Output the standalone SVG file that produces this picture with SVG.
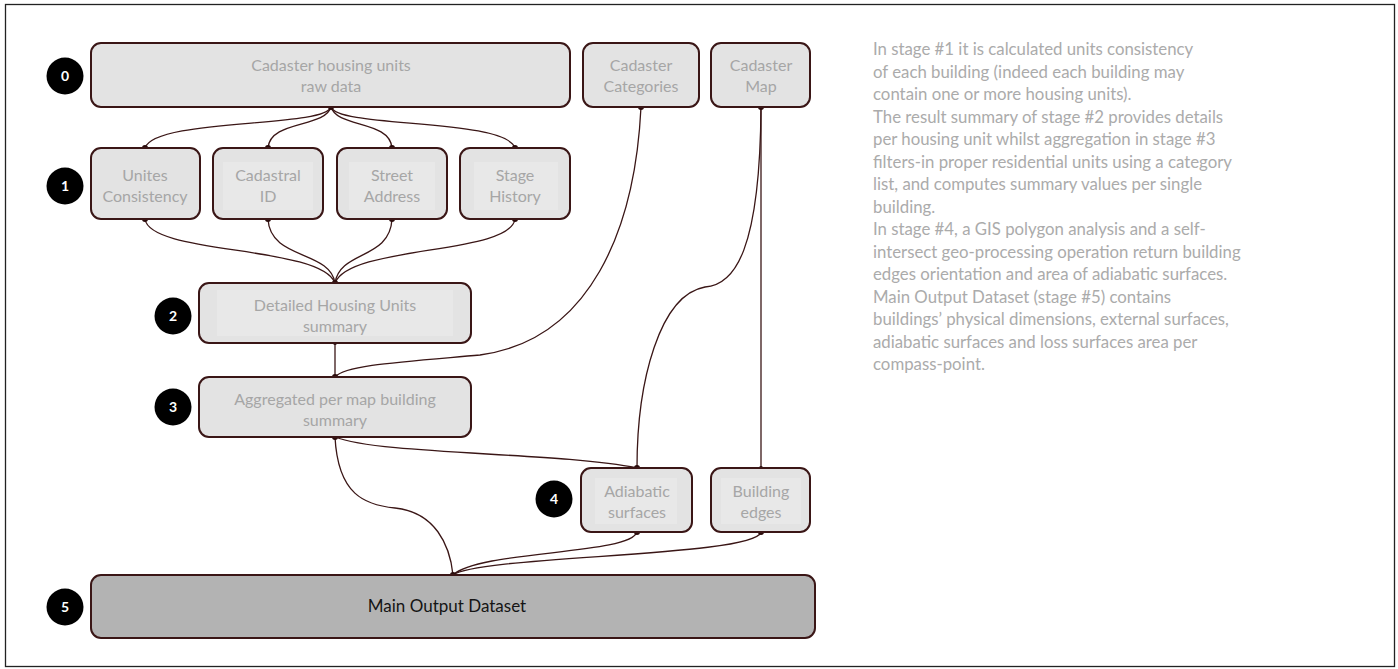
<svg xmlns="http://www.w3.org/2000/svg" width="1398" height="669" viewBox="0 0 1398 669">
<style>
.frame{fill:#fff;stroke:#222;stroke-width:1.3}
.node{fill:#e3e3e3;stroke:#3a1616;stroke-width:2}
.inner{fill:#e8e8e8}
.main{fill:#b3b3b3;stroke:#3a1616;stroke-width:2}
.lbl{font-family:"Lato","Liberation Sans",sans-serif;font-size:16px;fill:#a6a6a6;text-anchor:middle}
.mlbl{font-family:"Lato","Liberation Sans",sans-serif;font-size:17px;fill:#151515;text-anchor:middle}
.badge{fill:#000}
.num{font-family:"Lato","Liberation Sans",sans-serif;font-size:14px;font-weight:bold;fill:#fff;text-anchor:middle}
.conn path{fill:none;stroke:#3a1616;stroke-width:1.3}
.conn circle{fill:#2a0c0c}
.note{font-family:"Lato","Liberation Sans",sans-serif;font-size:16.8px;fill:#ababab}
</style>
<rect class="frame" x="5.5" y="4.5" width="1389" height="662"/>

<g id="connectors" class="conn">
<path d="M331,107 C325,128 155,118 145,148"/>
<path d="M331,107 C325,128 270,120 268,148"/>
<path d="M331,107 C337,128 390,120 392,148"/>
<path d="M331,107 C337,128 505,118 515,148"/>
<path d="M145,219 C150,255 320,245 335,283"/>
<path d="M268,219 C270,260 330,250 335,283"/>
<path d="M392,219 C390,260 340,250 335,283"/>
<path d="M515,219 C510,255 350,245 335,283"/>
<path d="M335,343 L335,377"/>
<path d="M641,107 C635,230 590,340 480,355 C400,362 345,365 335,377"/>
<path d="M761,107 L761,468"/>
<path d="M761,107 C760,250 735,285 705,287 C660,295 637,380 637,468"/>
<path d="M335,437 C380,455 560,452 637,468"/>
<path d="M335,437 C338,495 365,505 395,508 C435,512 450,545 453,575"/>
<path d="M637,532 C630,555 480,550 453,575"/>
<path d="M761,532 C755,557 480,555 453,575"/>
<circle cx="331" cy="107" r="3"/>
<circle cx="145" cy="148" r="3"/>
<circle cx="268" cy="148" r="3"/>
<circle cx="392" cy="148" r="3"/>
<circle cx="515" cy="148" r="3"/>
<circle cx="145" cy="219" r="3"/>
<circle cx="268" cy="219" r="3"/>
<circle cx="392" cy="219" r="3"/>
<circle cx="515" cy="219" r="3"/>
<circle cx="335" cy="283" r="3"/>
<circle cx="335" cy="343" r="2"/>
<circle cx="335" cy="377" r="3"/>
<circle cx="641" cy="107" r="3"/>
<circle cx="761" cy="107" r="3"/>
<circle cx="637" cy="468" r="3"/>
<circle cx="761" cy="468" r="2"/>
<circle cx="335" cy="437" r="3"/>
<circle cx="637" cy="532" r="3"/>
<circle cx="761" cy="532" r="3"/>
<circle cx="453" cy="575" r="3"/>
</g>

<g id="n0">
<rect class="node" x="91" y="43" width="479" height="64" rx="10"/>
<text class="lbl" x="331" y="71">Cadaster housing units</text>
<text class="lbl" x="331" y="92">raw data</text>
</g>
<g id="ncat">
<rect class="node" x="583" y="43" width="116" height="64" rx="10"/>
<text class="lbl" x="641" y="71">Cadaster</text>
<text class="lbl" x="641" y="92">Categories</text>
</g>
<g id="nmap">
<rect class="node" x="711" y="43" width="99" height="64" rx="10"/>
<text class="lbl" x="761" y="71">Cadaster</text>
<text class="lbl" x="761" y="92">Map</text>
</g>
<g id="n1a">
<rect class="node" x="91" y="148" width="109" height="71" rx="10"/>
<text class="lbl" x="145" y="181">Unites</text>
<text class="lbl" x="145" y="202">Consistency</text>
</g>
<g id="n1b">
<rect class="node" x="213" y="148" width="110" height="71" rx="10"/>
<rect class="inner" x="223" y="162" width="90" height="48"/>
<text class="lbl" x="268" y="181">Cadastral</text>
<text class="lbl" x="268" y="202">ID</text>
</g>
<g id="n1c">
<rect class="node" x="337" y="148" width="110" height="71" rx="10"/>
<rect class="inner" x="349" y="162" width="86" height="48"/>
<text class="lbl" x="392" y="181">Street</text>
<text class="lbl" x="392" y="202">Address</text>
</g>
<g id="n1d">
<rect class="node" x="460" y="148" width="110" height="71" rx="10"/>
<rect class="inner" x="474" y="162" width="84" height="48"/>
<text class="lbl" x="515" y="181">Stage</text>
<text class="lbl" x="515" y="202">History</text>
</g>
<g id="n2">
<rect class="node" x="199" y="283" width="272" height="60" rx="10"/>
<rect class="inner" x="217" y="290" width="236" height="46"/>
<text class="lbl" x="335" y="311">Detailed Housing Units</text>
<text class="lbl" x="335" y="332">summary</text>
</g>
<g id="n3">
<rect class="node" x="199" y="377" width="272" height="60" rx="10"/>
<text class="lbl" x="335" y="405">Aggregated per map building</text>
<text class="lbl" x="335" y="426">summary</text>
</g>
<g id="n4a">
<rect class="node" x="581" y="468" width="111" height="64" rx="10"/>
<rect class="inner" x="595" y="478" width="82" height="46"/>
<text class="lbl" x="637" y="497">Adiabatic</text>
<text class="lbl" x="637" y="518">surfaces</text>
</g>
<g id="n4b">
<rect class="node" x="711" y="468" width="99" height="64" rx="10"/>
<rect class="inner" x="721" y="478" width="80" height="46"/>
<text class="lbl" x="761" y="497">Building</text>
<text class="lbl" x="761" y="518">edges</text>
</g>
<g id="n5">
<rect class="main" x="91" y="575" width="724" height="63" rx="10"/>
<text class="mlbl" x="447" y="612">Main Output Dataset</text>
</g>

<g id="badges">
<circle class="badge" cx="65" cy="76" r="18.5"/><text class="num" x="65" y="81">0</text>
<circle class="badge" cx="65" cy="186" r="18.5"/><text class="num" x="65" y="191">1</text>
<circle class="badge" cx="173" cy="316" r="18.5"/><text class="num" x="173" y="321">2</text>
<circle class="badge" cx="173" cy="407" r="18.5"/><text class="num" x="173" y="412">3</text>
<circle class="badge" cx="554" cy="499" r="18.5"/><text class="num" x="554" y="504">4</text>
<circle class="badge" cx="65" cy="607" r="18.5"/><text class="num" x="65" y="612">5</text>
</g>

<g id="notes" class="note">
<text x="873" y="55">In stage #1  it is calculated units consistency</text>
<text x="873" y="77.5">of each building (indeed each building may</text>
<text x="873" y="100">contain one or more housing units).</text>
<text x="873" y="122.5">The result summary of stage #2 provides details</text>
<text x="873" y="145">per housing unit whilst aggregation in stage #3</text>
<text x="873" y="167.5">filters-in proper residential units using a category</text>
<text x="873" y="190">list, and computes summary values per single</text>
<text x="873" y="212.5">building.</text>
<text x="873" y="235">In stage #4, a GIS polygon analysis and a self-</text>
<text x="873" y="257.5">intersect geo-processing operation return building</text>
<text x="873" y="280">edges orientation and area of adiabatic surfaces.</text>
<text x="873" y="302.5">Main Output Dataset (stage #5) contains</text>
<text x="873" y="325">buildings’ physical dimensions, external surfaces,</text>
<text x="873" y="347.5">adiabatic surfaces and loss surfaces area per</text>
<text x="873" y="370">compass-point.</text>
</g>
</svg>
